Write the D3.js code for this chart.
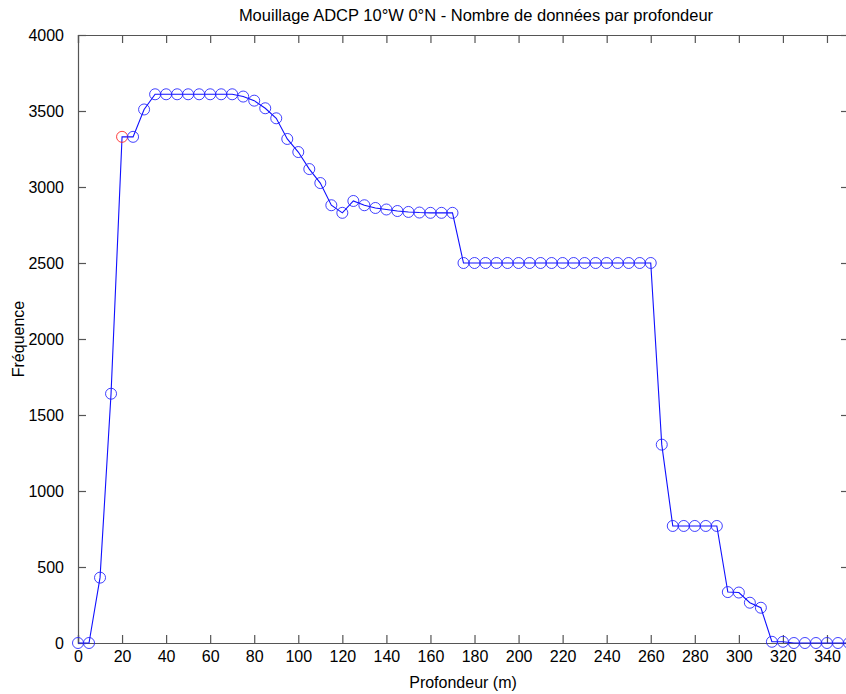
<!DOCTYPE html>
<html>
<head>
<meta charset="utf-8">
<script src="https://cdn.jsdelivr.net/npm/d3@7"></script>
<style>
  body { margin: 0; background: #fff; }
  svg { display: block; font-family: "Liberation Sans", Arial, sans-serif; }
</style>
</head>
<body>
<div class="canvas"></div>
<script>
// depth (m) every 5 m, and count of data per depth
const depths = d3.range(0, 355, 5);
const counts = [
  0, 0, 430, 1640, 3330, 3330, 3510, 3610, 3610, 3610,
  3610, 3610, 3610, 3610, 3610, 3595, 3568, 3518, 3452, 3316,
  3230, 3118, 3026, 2880, 2830, 2908, 2880, 2862, 2852, 2842,
  2836, 2832, 2830, 2830, 2830, 2500, 2500, 2500, 2500, 2500,
  2500, 2500, 2500, 2500, 2500, 2500, 2500, 2500, 2500, 2500,
  2500, 2500, 2500, 1305, 770, 770, 770, 770, 770, 335,
  332, 265, 232, 8, 8, 0, 0, 0, 0, 0,
  0
];
const redDepths = [20]; // point drawn in red
const xTicks = d3.range(0, 360, 20);
const yTicks = d3.range(0, 4500, 500);

const data = depths.map((d, i) => ({ depth: d, count: counts[i] }));

// dimensions
const W = 846, H = 694;
const m = { left: 78, top: 35, right: 849, bottom: 643 };

const svg = d3.select('.canvas')
  .append('svg')
  .attr('width', W)
  .attr('height', H);

const x = d3.scaleLinear().domain([0, 350]).range([m.left, m.right]);
const y = d3.scaleLinear().domain([0, 4000]).range([m.bottom, m.top]);

const axisCol = '#555';

// axes box (matlab style, ticks inside)
const gx = svg.append('g')
  .attr('transform', `translate(0, ${m.bottom})`)
  .call(d3.axisBottom(x).tickValues(xTicks).tickSize(-8).tickPadding(12).tickFormat(d3.format('d')));
const gxTop = svg.append('g')
  .attr('transform', `translate(0, ${m.top})`)
  .call(d3.axisTop(x).tickValues(xTicks).tickSize(-8).tickFormat(''));
const gy = svg.append('g')
  .attr('transform', `translate(${m.left}, 0)`)
  .call(d3.axisLeft(y).tickValues(yTicks).tickSize(-8).tickPadding(14).tickFormat(d3.format('d')));
const gyRight = svg.append('g')
  .attr('transform', `translate(${m.right}, 0)`)
  .call(d3.axisRight(y).tickValues(yTicks).tickSize(-8).tickFormat(''));

[gx, gxTop, gy, gyRight].forEach(g => {
  g.select('.domain').attr('stroke', axisCol).attr('stroke-width', 1.2);
  g.selectAll('.tick line').attr('stroke', axisCol).attr('stroke-width', 1.2);
  g.selectAll('.tick text')
    .attr('fill', '#000')
    .style('font-size', '16px');
});
gx.selectAll('.tick text').attr('dy', '0.45em');

// line
const line = d3.line()
  .x(d => x(d.depth))
  .y(d => y(d.count));

svg.append('path')
  .datum(data)
  .attr('fill', 'none')
  .attr('stroke', '#1010ff')
  .attr('stroke-width', 1.1)
  .attr('d', line);

// circle markers
svg.append('g')
  .selectAll('circle')
  .data(data)
  .enter()
  .append('circle')
  .attr('cx', d => x(d.depth))
  .attr('cy', d => y(d.count))
  .attr('r', 5.5)
  .attr('fill', 'none')
  .attr('stroke', d => redDepths.includes(d.depth) ? '#ff2020' : '#2020ff')
  .attr('stroke-opacity', 0.85)
  .attr('stroke-width', 1);

// title & labels
svg.append('text')
  .attr('x', 476)
  .attr('y', 21)
  .attr('text-anchor', 'middle')
  .style('font-size', '16.5px')
  .text('Mouillage ADCP 10°W 0°N - Nombre de données par profondeur');

svg.append('text')
  .attr('x', 463)
  .attr('y', 688)
  .attr('text-anchor', 'middle')
  .style('font-size', '16px')
  .text('Profondeur (m)');

svg.append('text')
  .attr('transform', `translate(24, ${(m.top + m.bottom) / 2}) rotate(-90)`)
  .attr('text-anchor', 'middle')
  .style('font-size', '16px')
  .text('Fréquence');
</script>
</body>
</html>
